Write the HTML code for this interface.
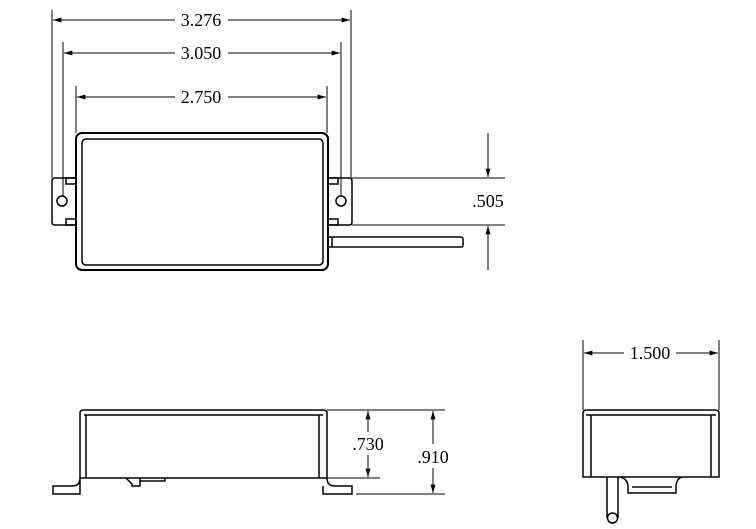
<!DOCTYPE html>
<html><head><style>html,body{margin:0;padding:0;background:#fff}svg{display:block}</style></head><body>
<svg width="756" height="529" viewBox="0 0 756 529" xmlns="http://www.w3.org/2000/svg" font-family="Liberation Serif, serif" font-size="18">
<defs><marker id="a" viewBox="0 0 10 6" refX="10" refY="3" markerWidth="12" markerHeight="5" orient="auto-start-reverse" markerUnits="userSpaceOnUse"><path d="M0,0L10,3L0,6z" fill="#000"/></marker></defs>
<g stroke="#000" fill="none" stroke-width="1">
<line x1="52" y1="10" x2="52" y2="178"/><line x1="351" y1="10" x2="351" y2="178"/>
<line x1="63" y1="42" x2="63" y2="196"/><line x1="341" y1="42" x2="341" y2="196"/>
<line x1="76" y1="86" x2="76" y2="133"/><line x1="327" y1="86" x2="327" y2="133"/>
<line x1="53" y1="20" x2="175" y2="20" marker-start="url(#a)"/><line x1="228" y1="20" x2="350" y2="20" marker-end="url(#a)"/>
<line x1="64" y1="53" x2="175" y2="53" marker-start="url(#a)"/><line x1="228" y1="53" x2="340" y2="53" marker-end="url(#a)"/>
<line x1="77" y1="97" x2="175" y2="97" marker-start="url(#a)"/><line x1="228" y1="97" x2="326" y2="97" marker-end="url(#a)"/>
</g>
<g stroke="#000" fill="none" stroke-width="1.5">
<path d="M76,178 H55 Q52,178 52,181 V222 Q52,225 55,225 H76"/>
<path d="M328,178 H349 Q352,178 352,181 V222 Q352,225 349,225 H328"/>
<circle cx="62" cy="201" r="5"/><circle cx="341" cy="201" r="5"/>
<path d="M76,178 H66 V184 H76 M76,219 H66 V225 H76"/>
<path d="M328,178 H338 V184 H328 M328,219 H338 V225 H328"/>
<rect x="76" y="133" width="252" height="137" rx="6" stroke-width="2"/>
<rect x="82" y="139" width="241" height="126" rx="4"/>
<rect x="328" y="237" width="135" height="10" rx="2"/>
<line x1="332" y1="237" x2="332" y2="247"/>
</g>
<g stroke="#000" fill="none" stroke-width="1">
<line x1="352" y1="178" x2="505" y2="178"/><line x1="352" y1="225" x2="505" y2="225"/>
<line x1="488" y1="133" x2="488" y2="177" marker-end="url(#a)"/>
<line x1="488" y1="270" x2="488" y2="226" marker-end="url(#a)"/>
</g>
<text x="488" y="207" text-anchor="middle">.505</text>
<text x="201" y="26" text-anchor="middle">3.276</text>
<text x="201" y="59" text-anchor="middle">3.050</text>
<text x="201" y="103" text-anchor="middle">2.750</text>
<g stroke="#000" fill="none" stroke-width="1.5">
<path d="M80,478 V413 Q80,410 84,410 H323 Q327,410 327,413 V478"/>
<line x1="84" y1="415" x2="323" y2="415"/>
<line x1="86" y1="415" x2="86" y2="478"/><line x1="319" y1="415" x2="319" y2="478"/>
<line x1="80" y1="478" x2="327" y2="478"/>
<path d="M80,478 Q80,486 72,486 H53 V494 H80 Z"/>
<path d="M327,478 Q327,486 335,486 H352 V494 H323 V486"/>
<path d="M126,478 L132,484 V486 H140 V478 M140,481 H165 V478"/>
</g>
<g stroke="#000" fill="none" stroke-width="1">
<line x1="327" y1="410" x2="445" y2="410"/><line x1="327" y1="478" x2="380" y2="478"/><line x1="356" y1="494" x2="445" y2="494"/>
<line x1="368" y1="432" x2="368" y2="411" marker-end="url(#a)"/>
<line x1="368" y1="455" x2="368" y2="477" marker-end="url(#a)"/>
<line x1="433" y1="444" x2="433" y2="411" marker-end="url(#a)"/>
<line x1="433" y1="468" x2="433" y2="493" marker-end="url(#a)"/>
</g>
<text x="368" y="450" text-anchor="middle">.730</text>
<text x="433" y="463" text-anchor="middle">.910</text>
<g stroke="#000" fill="none" stroke-width="1.5">
<path d="M583,477 V413 Q583,410 587,410 H715 Q719,410 719,413 V477 Z"/>
<line x1="586" y1="415" x2="716" y2="415"/>
<line x1="591" y1="415" x2="591" y2="477"/><line x1="711" y1="415" x2="711" y2="477"/>
<path d="M620,477 Q628,479 628,487 V493 H676 V487 Q676,479 682,477"/>
<line x1="632" y1="487" x2="672" y2="487"/>
<path d="M607,477 V518 M618,477 V518"/>
<circle cx="612.5" cy="518" r="5"/>
</g>
<g stroke="#000" fill="none" stroke-width="1">
<line x1="583" y1="340" x2="583" y2="410"/><line x1="719" y1="340" x2="719" y2="410"/>
<line x1="624" y1="353" x2="584" y2="353" marker-end="url(#a)"/>
<line x1="676" y1="353" x2="718" y2="353" marker-end="url(#a)"/>
</g>
<text x="650" y="359" text-anchor="middle">1.500</text>
</svg>
</body></html>
